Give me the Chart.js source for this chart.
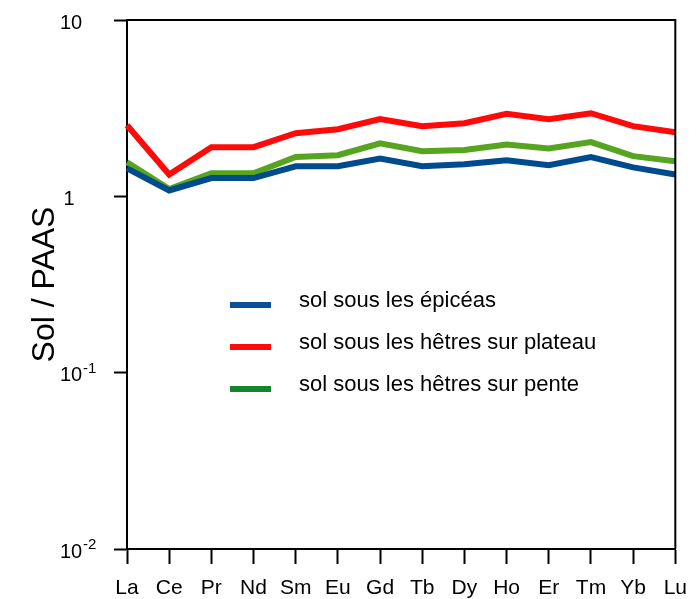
<!DOCTYPE html>
<html>
<head>
<meta charset="utf-8">
<script src="https://cdn.jsdelivr.net/npm/chart.js@4"></script>
<style>
  html, body { margin: 0; padding: 0; background: #fff; }
  #wrap { width: 699px; height: 599px; }
</style>
</head>
<body>
<div id="wrap"><canvas id="reeChart" width="699" height="599"></canvas></div>
<script>
const elements = ['La', 'Ce', 'Pr', 'Nd', 'Sm', 'Eu', 'Gd', 'Tb', 'Dy', 'Ho', 'Er', 'Tm', 'Yb', 'Lu'];

const solEpiceas = [1.44, 1.08, 1.27, 1.27, 1.48, 1.48, 1.64, 1.48, 1.52, 1.60, 1.50, 1.67, 1.46, 1.33];
const solHetresPlateau = [2.53, 1.33, 1.90, 1.90, 2.28, 2.40, 2.74, 2.50, 2.60, 2.94, 2.74, 2.96, 2.50, 2.31];
const solHetresPente = [1.56, 1.10, 1.35, 1.35, 1.67, 1.71, 2.00, 1.80, 1.83, 1.97, 1.87, 2.03, 1.69, 1.58];

const seriesLabels = ['sol sous les épicéas', 'sol sous les hêtres sur plateau', 'sol sous les hêtres sur pente'];

const yTickValues = [10, 1, 0.1, 0.01];
const yTickBase = ['10', '1', '10', '10'];
const yTickExp = ['', '', '-1', '-2'];

const bleu = '#004b8d';
const rouge = '#ff0a0a';
const vert = '#56a41f';
const vertLegende = '#13862b';

const police = '"Liberation Sans", Arial, sans-serif';

// cadre haut + droite
const cadrePlugin = {
    id: 'cadre',
    afterDraw(chart) {
        const { ctx, chartArea } = chart;
        ctx.save();
        ctx.strokeStyle = '#000';
        ctx.lineWidth = 2;
        ctx.beginPath();
        ctx.moveTo(chartArea.left, chartArea.top);
        ctx.lineTo(chartArea.right, chartArea.top);
        ctx.lineTo(chartArea.right, chartArea.bottom);
        ctx.stroke();
        ctx.restore();
    }
};

// etiquettes de l'axe y avec exposants
const puissancesPlugin = {
    id: 'puissances',
    afterDraw(chart) {
        const { ctx } = chart;
        const y = chart.scales.y;
        ctx.save();
        ctx.fillStyle = '#000';
        ctx.textBaseline = 'middle';
        yTickValues.forEach((v, i) => {
            const py = y.getPixelForValue(v) + 3;
            ctx.font = '20px ' + police;
            ctx.textAlign = 'center';
            const cx = yTickBase[i] === '1' ? 69 : 71;
            ctx.fillText(yTickBase[i], cx, py);
            if (yTickExp[i]) {
                const w = ctx.measureText(yTickBase[i]).width;
                ctx.font = '15px ' + police;
                ctx.textAlign = 'left';
                ctx.fillText(yTickExp[i], cx + w / 2 + 1, py - 7);
            }
        });
        ctx.restore();
    }
};

// legende dans la zone du graphique
const legendePlugin = {
    id: 'legende',
    afterDraw(chart) {
        const { ctx } = chart;
        ctx.save();
        chart.data.datasets.forEach((ds, i) => {
            const ly = 305 + i * 42;
            ctx.strokeStyle = ds.legendColor || ds.borderColor;
            ctx.lineWidth = 6;
            ctx.beginPath();
            ctx.moveTo(230, ly);
            ctx.lineTo(271, ly);
            ctx.stroke();
            ctx.fillStyle = '#000';
            ctx.font = '22px ' + police;
            ctx.textAlign = 'left';
            ctx.textBaseline = 'alphabetic';
            ctx.fillText(ds.label, 299, ly + 2);
        });
        ctx.restore();
    }
};

const ctx = document.getElementById('reeChart').getContext('2d');
const reeChart = new Chart(ctx, {
    type: 'line',
    data: {
        labels: elements,
        datasets: [{
            label: seriesLabels[0],
            data: solEpiceas,
            borderColor: bleu,
            legendColor: '#0b4f98'
        }, {
            label: seriesLabels[1],
            data: solHetresPlateau,
            borderColor: rouge
        }, {
            label: seriesLabels[2],
            data: solHetresPente,
            borderColor: vert,
            legendColor: vertLegende
        }].map(d => Object.assign(d, {
            borderWidth: 6,
            pointRadius: 0,
            tension: 0,
            fill: false,
            borderCapStyle: 'butt',
            borderJoinStyle: 'miter'
        }))
    },
    options: {
        responsive: false,
        animation: false,
        layout: {
            padding: { top: 20, right: 22, left: 0, bottom: 0 }
        },
        scales: {
            x: {
                offset: false,
                grid: {
                    offset: false,
                    drawOnChartArea: false,
                    tickLength: 15,
                    tickWidth: 2,
                    tickColor: '#000'
                },
                border: { display: true, color: '#000', width: 2 },
                ticks: {
                    color: '#000',
                    padding: 12,
                    maxRotation: 0,
                    autoSkip: false,
                    font: { family: police, size: 21 }
                },
                afterFit: s => { s.height = 50; }
            },
            y: {
                type: 'logarithmic',
                min: 0.01,
                max: 10,
                afterBuildTicks: s => { s.ticks = yTickValues.map(v => ({ value: v })); },
                grid: {
                    drawOnChartArea: false,
                    tickLength: 13,
                    tickWidth: 2,
                    tickColor: '#000'
                },
                border: { display: true, color: '#000', width: 2 },
                ticks: { display: false },
                title: {
                    display: true,
                    text: 'Sol / PAAS',
                    color: '#000',
                    padding: { top: 26, bottom: 0 },
                    font: { family: police, size: 32 }
                },
                afterFit: s => { s.width = 127; }
            }
        },
        plugins: {
            legend: { display: false },
            tooltip: { enabled: false }
        }
    },
    plugins: [cadrePlugin, puissancesPlugin, legendePlugin]
});
</script>
</body>
</html>
